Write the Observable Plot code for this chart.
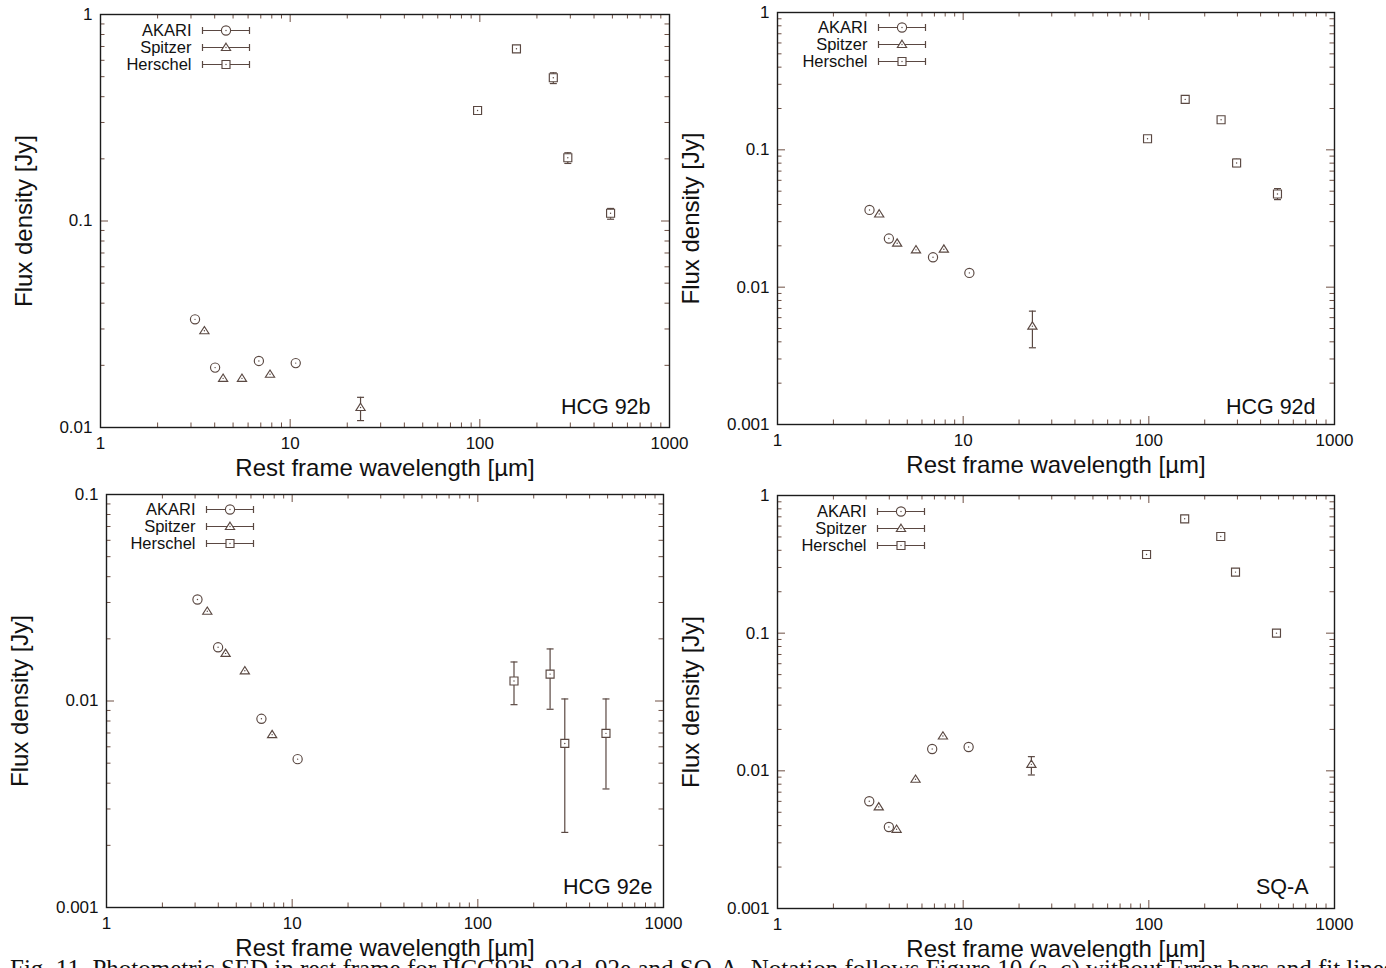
<!DOCTYPE html>
<html><head><meta charset="utf-8">
<script src="https://cdn.jsdelivr.net/npm/d3@7"></script>
<script src="https://cdn.jsdelivr.net/npm/@observablehq/plot@0.6"></script>
<style>
html,body{margin:0;padding:0;background:#fff;width:1386px;height:968px;overflow:hidden;}
#wrap{position:relative;width:1386px;height:968px;overflow:hidden;}
.panel{position:absolute;}
#caption{position:absolute;left:10px;top:956px;font-family:"Liberation Serif","Times New Roman",serif;font-size:25px;line-height:1;white-space:nowrap;color:#111;}
</style></head><body><div id="wrap"></div>
<script>
// ---- data: [wavelength (µm), flux (Jy), lower, upper] ----
const hcg92b_akari    = [[3.15,0.0334],[4.02,0.0195],[6.84,0.0210],[10.7,0.0205]];
const hcg92b_spitzer  = [[3.53,0.0294],[4.43,0.0173],[5.57,0.0173],[7.83,0.0181],[23.5,0.0125,0.0108,0.0140]];
const hcg92b_herschel = [[97.3,0.343],[156,0.682],[244,0.494,0.463,0.522],[291,0.2025,0.190,0.214],[489,0.109,0.102,0.115]];

const hcg92d_akari    = [[3.13,0.0365],[3.98,0.0226],[6.88,0.0165],[10.8,0.0127]];
const hcg92d_spitzer  = [[3.53,0.0341],[4.41,0.0209],[5.57,0.0187],[7.87,0.0189],[23.6,0.0052,0.00362,0.00669]];
const hcg92d_herschel = [[98.4,0.1205],[157,0.233,0.226,0.240],[245,0.1657,0.160,0.172],[297,0.0802,0.0755,0.0855],[493,0.0477,0.0434,0.0522]];

const hcg92e_akari    = [[3.09,0.031],[3.99,0.0182],[6.83,0.0082],[10.7,0.00523]];
const hcg92e_spitzer  = [[3.49,0.0272],[4.38,0.0170],[5.56,0.0140],[7.80,0.00687]];
const hcg92e_herschel = [[156.6,0.0125,0.0096,0.01545],[245,0.0135,0.00912,0.01787],[294,0.00623,0.00231,0.01023],[490,0.00697,0.00375,0.01023]];

const sqa_akari    = [[3.12,0.00601],[3.98,0.00391],[6.81,0.0144],[10.7,0.0149]];
const sqa_spitzer  = [[3.51,0.00547],[4.38,0.00376],[5.54,0.00868],[7.78,0.0179],[23.3,0.01115,0.00933,0.01268]];
const sqa_herschel = [[97.2,0.373],[156,0.677],[244,0.504],[293,0.2777],[487,0.100]];

const panelNames = ["HCG 92b","HCG 92d","HCG 92e","SQ-A"];
const seriesNames = ["AKARI","Spitzer","Herschel"];
const xTicks = [1,10,100,1000];
const yTicks = [[0.01,0.1,1],[0.001,0.01,0.1,1],[0.001,0.01,0.1],[0.001,0.01,0.1,1]];
const xLabel = "Rest frame wavelength [µm]";
const yLabel = "Flux density [Jy]";
const captionText = "Fig. 11. Photometric SED in rest frame for HCG92b, 92d, 92e and SQ-A. Notation follows Figure 10 (a–c) without Error bars and fit lines.";

const panelData = [
  [hcg92b_akari, hcg92b_spitzer, hcg92b_herschel],
  [hcg92d_akari, hcg92d_spitzer, hcg92d_herschel],
  [hcg92e_akari, hcg92e_spitzer, hcg92e_herschel],
  [sqa_akari, sqa_spitzer, sqa_herschel]
];

// ---- layout / style ----
const layout = [
  {left:0,   top:0,   mL:100, mT:14, mR:24, mB:57, yLabDx:-76, nameDx:-19, nameDy:-14, legDx:91, legDy:16},
  {left:693, top:0,   mL:84,  mT:12, mR:52, mB:60, yLabDx:-86, nameDx:-19, nameDy:-11, legDx:90, legDy:15},
  {left:0,   top:484, mL:106, mT:10, mR:30, mB:61, yLabDx:-86, nameDx:-11, nameDy:-14, legDx:89, legDy:15},
  {left:693, top:484, mL:84,  mT:11, mR:52, mB:60, yLabDx:-86, nameDx:-26, nameDy:-15, legDx:89, legDy:16}
];
const W = 693, H = 484;
const markColor = "#5a4842";
const tickColor = "#6e5044";
const frameColor = "#1c1c1c";
const font = "'Liberation Sans', Arial, Helvetica, sans-serif";

const circleSym = {draw(c){ c.moveTo(4.6,0); c.arc(0,0,4.6,0,2*Math.PI); c.closePath(); }};
const triSym = {draw(c){ c.moveTo(0,-4.3); c.lineTo(4.6,3); c.lineTo(-4.6,3); c.closePath(); }};
const sqSym = {draw(c){ c.moveTo(-4,-4); c.lineTo(4,-4); c.lineTo(4,4); c.lineTo(-4,4); c.closePath(); }};
const syms = [circleSym, triSym, sqSym];
const capSym = {draw(c){ c.moveTo(-3.5,0); c.lineTo(3.5,0); }};
const legBar = {draw(c){
  c.moveTo(-23.5,0); c.lineTo(23.5,0);
  c.moveTo(-23.5,-3.5); c.lineTo(-23.5,3.5);
  c.moveTo(23.5,-3.5); c.lineTo(23.5,3.5);
}};

function minorTicks(lo, hi){
  const out = [];
  for (let e = Math.round(Math.log10(lo)); e < Math.round(Math.log10(hi)); e++)
    for (let k = 2; k <= 9; k++) out.push(k * Math.pow(10, e));
  return out;
}
const fmt = d => String(d);

const wrap = document.getElementById("wrap");

panelData.forEach((series, i) => {
  const L = layout[i];
  const yt = yTicks[i];
  const yDom = [yt[0], yt[yt.length-1]];
  const pw = W - L.mL - L.mR, ph = H - L.mT - L.mB;
  const sets = series.map(s => s.map(([w,f,lo,hi]) => ({w,f,lo,hi})));
  const all = sets.flat();
  const err = all.filter(d => d.lo != null);
  const mx = minorTicks(1,1000), my = minorTicks(yDom[0], yDom[1]);

  const marks = [
    // inward ticks on all four sides
    Plot.tickX(xTicks, {x: d=>d, insetTop: ph-8, stroke: tickColor}),
    Plot.tickX(xTicks, {x: d=>d, insetBottom: ph-8, stroke: tickColor}),
    Plot.tickX(mx, {x: d=>d, insetTop: ph-4.5, stroke: tickColor}),
    Plot.tickX(mx, {x: d=>d, insetBottom: ph-4.5, stroke: tickColor}),
    Plot.tickY(yt, {y: d=>d, insetRight: pw-8, stroke: tickColor}),
    Plot.tickY(yt, {y: d=>d, insetLeft: pw-8, stroke: tickColor}),
    Plot.tickY(my, {y: d=>d, insetRight: pw-4.5, stroke: tickColor}),
    Plot.tickY(my, {y: d=>d, insetLeft: pw-4.5, stroke: tickColor}),
    Plot.frame({stroke: frameColor, strokeWidth: 1.4}),
    Plot.axisX({ticks: xTicks, tickSize: 0, tickPadding: 9, tickFormat: fmt, label: null, fontSize: 17, fill: "#111"}),
    Plot.axisY({ticks: yt, tickSize: 0, tickPadding: 8, tickFormat: fmt, label: null, fontSize: 17, fill: "#111"}),
    Plot.text([xLabel], {text: d=>d, frameAnchor: "bottom", dy: 41, textAnchor: "middle", lineAnchor: "middle", fontSize: 24, fill: "#111"}),
    Plot.text([yLabel], {text: d=>d, frameAnchor: "left", dx: L.yLabDx, rotate: -90, textAnchor: "middle", lineAnchor: "middle", fontSize: 24, fill: "#111"}),
    Plot.text([panelNames[i]], {text: d=>d, frameAnchor: "bottom-right", dx: L.nameDx, dy: L.nameDy, textAnchor: "end", lineAnchor: "bottom", fontSize: 21.5, fill: "#111"}),
    // error bars
    Plot.ruleX(err, {x: "w", y1: "lo", y2: "hi", stroke: markColor, strokeWidth: 1.2}),
    Plot.dot(err, {x: "w", y: "lo", symbol: capSym, stroke: markColor, fill: "none", strokeWidth: 1.2}),
    Plot.dot(err, {x: "w", y: "hi", symbol: capSym, stroke: markColor, fill: "none", strokeWidth: 1.2}),
  ];
  sets.forEach((s, j) => {
    marks.push(Plot.dot(s, {x: "w", y: "f", symbol: syms[j], stroke: markColor, fill: "white", strokeWidth: 1.15}));
  });
  marks.push(Plot.dot(all, {x: "w", y: "f", r: 0.7, fill: markColor, stroke: "none"}));
  // legend
  seriesNames.forEach((name, j) => {
    const dy = L.legDy + j*17;
    marks.push(Plot.text([name], {text: d=>d, frameAnchor: "top-left", dx: L.legDx, dy, textAnchor: "end", lineAnchor: "middle", fontSize: 16.5, fill: "#111"}));
    marks.push(Plot.dot([name], {frameAnchor: "top-left", dx: L.legDx + 34.5, dy, symbol: legBar, stroke: markColor, fill: "none", strokeWidth: 1.2}));
    marks.push(Plot.dot([name], {frameAnchor: "top-left", dx: L.legDx + 34.5, dy, symbol: syms[j], stroke: markColor, fill: "white", strokeWidth: 1.15}));
    marks.push(Plot.dot([name], {frameAnchor: "top-left", dx: L.legDx + 34.5, dy, r: 0.7, fill: markColor, stroke: "none"}));
  });

  const svg = Plot.plot({
    width: W, height: H,
    marginLeft: L.mL, marginTop: L.mT, marginRight: L.mR, marginBottom: L.mB,
    x: {type: "log", domain: [1,1000]},
    y: {type: "log", domain: yDom},
    style: {fontFamily: font, background: "transparent", color: "#111", overflow: "visible"},
    marks
  });
  svg.classList.add("panel");
  svg.style.left = L.left + "px";
  svg.style.top = L.top + "px";
  wrap.appendChild(svg);
});

const cap = document.createElement("div");
cap.id = "caption";
cap.textContent = captionText;
wrap.appendChild(cap);
</script>
</body></html>
